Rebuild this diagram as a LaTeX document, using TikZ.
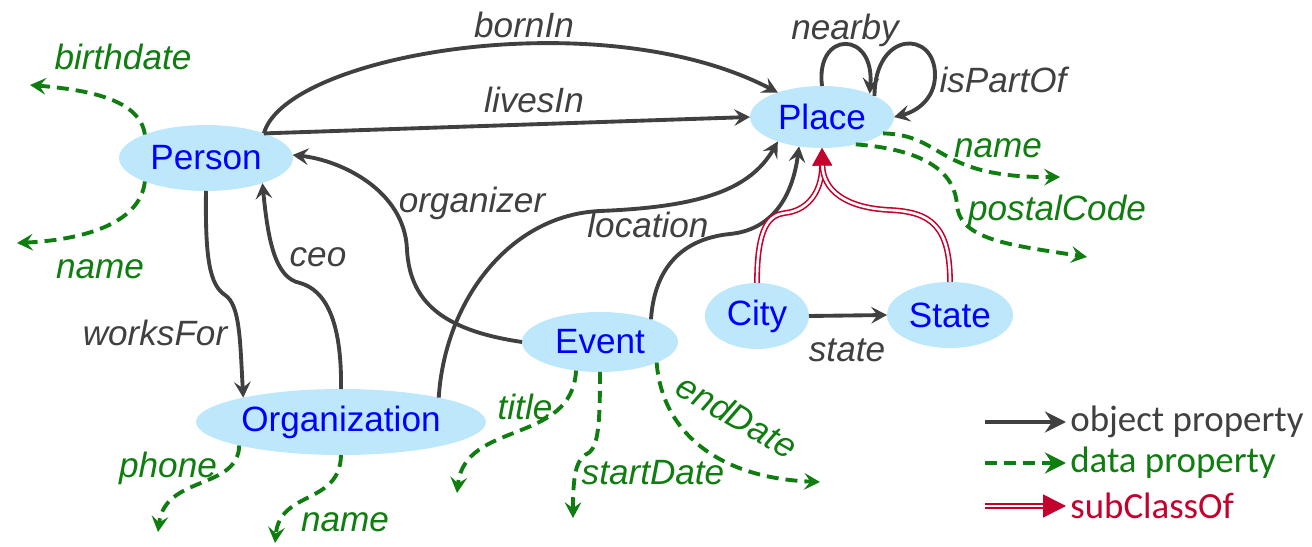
\documentclass[tikz,border=0pt]{standalone}
\usepackage{fontspec}
\setmainfont{Liberation Sans}
\newfontfamily\legendfont{Carlito}
\usetikzlibrary{arrows.meta,shapes.geometric}

\definecolor{clsfill}{RGB}{189,231,250}
\definecolor{clstext}{RGB}{0,0,255}
\definecolor{edgegray}{RGB}{64,64,64}
\definecolor{datagreen}{RGB}{16,125,16}
\definecolor{subred}{RGB}{196,0,44}

\begin{document}
\begin{tikzpicture}[x=0.02cm, y=-0.02cm,
  cls/.style={ellipse, fill=clsfill, draw=none, inner sep=0pt, outer sep=0pt,
    text=clstext, font=\fontsize{20}{24}\selectfont},
  objp/.style={draw=edgegray, line width=2.2pt,
    -{Stealth[length=9pt, width=9.5pt, inset=3.5pt]}},
  datap/.style={draw=datagreen, line width=2.2pt, dash pattern=on 6.8pt off 4pt,
    -{Stealth[length=9pt, width=9.5pt, inset=3.5pt]}},
  subc/.style={draw=subred, double=white, line width=0.9pt, double distance=1.5pt,
    -{Triangle[length=10pt, width=11pt]}},
  olabel/.style={text=edgegray, inner sep=1pt, font=\fontsize{20}{24}\selectfont\itshape},
  dlabel/.style={text=datagreen, inner sep=1pt, font=\fontsize{20}{24}\selectfont\itshape},
  legtext/.style={anchor=west, inner sep=0pt, font=\legendfont\fontsize{21}{25}\selectfont}
]
\useasboundingbox (0,0) rectangle (1312,547);

% classes
\node[cls, minimum width=3.48cm, minimum height=1.32cm] (person) at (206,158) {Person};
\node[cls, minimum width=2.88cm, minimum height=1.24cm] (place) at (822,117) {Place};
\node[cls, minimum width=5.8cm, minimum height=1.32cm] (org) at (341,422) {Organization};
\node[cls, minimum width=3.12cm, minimum height=1.2cm] (event) at (600,342) {Event};
\node[cls, minimum width=2.08cm, minimum height=1.32cm] (city) at (757,316) {City};
\node[cls, minimum width=2.52cm, minimum height=1.32cm] (state) at (950,315) {State};

% object properties
\draw[objp] (person.23) .. controls (285,55) and (600,0) .. (place.151);
\draw[objp] (person.23) -- (place.180);
\draw[objp] (event.west) .. controls (440,330) and (410,300) .. (407,250)
  .. controls (405,190) and (340,160) .. (person.2);
\draw[objp] (org.north) .. controls (342,320) and (325,290) .. (300,283)
  .. controls (275,278) and (268,240) .. (person.-24);
\draw[objp] (person.south) .. controls (205,260) and (210,285) .. (225,295)
  .. controls (240,305) and (240,340) .. (org.166);
\draw[objp] (org.14) .. controls (445,300) and (510,215) .. (600,211)
  .. controls (700,207) and (750,190) .. (place.209);
\draw[objp] (event.24) .. controls (655,260) and (690,238) .. (730,234)
  .. controls (770,230) and (792,200) .. (place.232);
\draw[objp] (place.north) .. controls (815,30) and (875,30) .. (place.26);
\draw[objp] (place.22) .. controls (875,30) and (935,30) .. (935,75)
  .. controls (935,100) and (915,112) .. (place.east);
\draw[objp] (city.east) -- (state.west);

% subclass links
\draw[subc] (city.north) .. controls (757,225) and (770,215) .. (785,213)
  .. controls (805,211) and (822,195) .. (place.south);
\draw[subc] (state.north) .. controls (950,225) and (930,212) .. (890,210)
  .. controls (845,208) and (823,190) .. (place.south);

% data property ends
\coordinate (pbirth) at (30,85);
\coordinate (pname) at (17,243);
\coordinate (plname) at (1060,177);
\coordinate (plpostal) at (1087,257);
\coordinate (ophone) at (158,532);
\coordinate (oname) at (275,543);
\coordinate (etitle) at (457,493);
\coordinate (estart) at (573,518);
\coordinate (eend) at (820,482);

% data properties
\draw[datap] (person.159) .. controls (140,100) and (90,90) .. (pbirth);
\draw[datap] (person.201) .. controls (140,225) and (80,240) .. (pname);
\draw[datap] (place.-15.5) .. controls (945,135) and (935,178) .. (plname);
\draw[datap] (place.-39) .. controls (930,150) and (955,175) .. (957,205)
  .. controls (960,240) and (1010,245) .. (plpostal);
\draw[datap] (org.193) .. controls (238,490) and (165,475) .. (ophone);
\draw[datap] (org.south) .. controls (340,505) and (280,490) .. (oname);
\draw[datap] (event.230) .. controls (572,445) and (465,420) .. (etitle);
\draw[datap] (event.south) .. controls (600,430) and (598,450) .. (585,455)
  .. controls (575,462) and (573,480) .. (estart);
\draw[datap] (event.-20) .. controls (662,432) and (718,478) .. (eend);

% labels
\node[olabel] (lborn) at (524,25) {bornIn};
\node[olabel] (llives) at (534,100) {livesIn};
\node[olabel] (lnear) at (845,30) {nearby};
\node[olabel] (lpart) at (1003,80) {isPartOf};
\node[olabel] (lorg) at (472,203) {organizer};
\node[olabel] (lloc) at (648,225) {location};
\node[olabel] (lceo) at (318,257) {ceo};
\node[olabel] (lworks) at (155,333) {worksFor};
\node[olabel] (lstate) at (847,350) {state};
\node[dlabel] (lbirth) at (123,57) {birthdate};
\node[dlabel] (lpname) at (100,269) {name};
\node[dlabel] (lplname) at (998,148) {name};
\node[dlabel] (lpostal) at (1057,211) {postalCode};
\node[dlabel] (lphone) at (168,468) {phone};
\node[dlabel] (loname) at (345,522) {name};
\node[dlabel] (ltitle) at (525,407) {title};
\node[dlabel] (lstart) at (653,473) {startDate};
\node[dlabel, rotate=-30] (lend) at (737,416) {endDate};

% legend
\coordinate (k1a) at (985,422); \coordinate (k1b) at (1066,422);
\coordinate (k2a) at (985,463); \coordinate (k2b) at (1066,463);
\coordinate (k3a) at (985,506); \coordinate (k3b) at (1066,506);
\draw[objp, -{Stealth[length=12pt, width=12pt, inset=4pt]}] (k1a) -- (k1b);
\draw[datap, -{Stealth[length=12pt, width=12pt, inset=4pt]}] (k2a) -- (k2b);
\draw[subc, -{Triangle[length=13pt, width=13pt]}] (k3a) -- (k3b);
\node[legtext, text=edgegray] (t1) at (1070,422) {object property};
\node[legtext, text=datagreen] (t2) at (1070,463) {data property};
\node[legtext, text=subred] (t3) at (1070,506) {subClassOf};
\end{tikzpicture}
\end{document}
